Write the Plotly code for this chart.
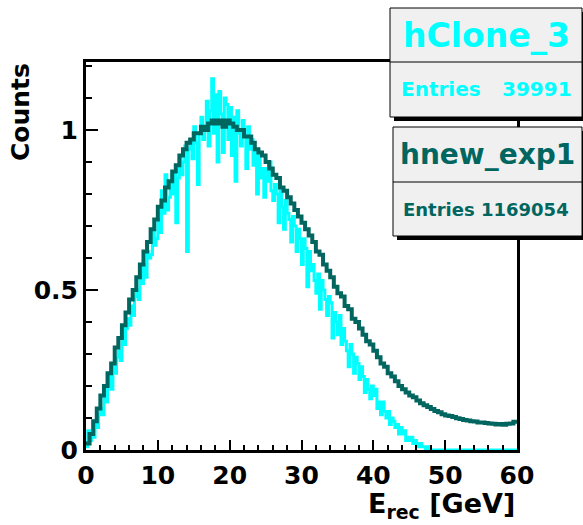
import plotly.graph_objects as go

# ---- data -------------------------------------------------------------
# hClone_3 : 240 bins of 0.25 GeV on [0, 60]
clone_edges_lo = 0.0
clone_width = 0.25
clone_vals = [
    0.01, 0.06, 0.03, 0.05,   # 0
    0.04, 0.09, 0.07, 0.11,   # 1
    0.13, 0.11, 0.17, 0.15,   # 2
    0.20, 0.23, 0.19, 0.26,   # 3
    0.24, 0.29, 0.31, 0.28,   # 4
    0.35, 0.33, 0.38, 0.41,   # 5
    0.39, 0.45, 0.42, 0.48,   # 6
    0.50, 0.47, 0.55, 0.52,   # 7
    0.58, 0.54, 0.62, 0.60,   # 8
    0.61, 0.69, 0.64, 0.66,   # 9
    0.72, 0.68, 0.81, 0.74,   # 10
    0.86, 0.75, 0.79, 0.83,   # 11
    0.80, 0.87, 0.71, 0.85,   # 12
    0.92, 0.86, 0.90, 0.95,   # 13
    0.62, 0.94, 0.97, 0.91,   # 14
    1.01, 0.96, 0.83, 0.99,   # 15
    1.04, 0.97, 1.00, 1.09,   # 16
    0.95, 1.06, 1.16, 0.99,   # 17
    1.11, 0.90, 1.12, 1.05,   # 18
    0.93, 1.10, 1.08, 0.97,   # 19
    1.07, 0.92, 1.04, 0.84,   # 20
    1.06, 0.99, 0.95, 1.03,   # 21
    0.98, 0.88, 1.01, 0.94,   # 22
    0.97, 0.89, 0.93, 0.80,   # 23
    0.93, 0.85, 0.88, 0.79,   # 24
    0.88, 0.84, 0.90, 0.81,   # 25
    0.78, 0.83, 0.80, 0.71,   # 26
    0.81, 0.76, 0.69, 0.78,   # 27
    0.74, 0.72, 0.65, 0.73,   # 28
    0.70, 0.62, 0.69, 0.66,   # 29
    0.58, 0.66, 0.63, 0.51,   # 30
    0.62, 0.56, 0.58, 0.53,   # 31
    0.49, 0.55, 0.44, 0.53,   # 32
    0.50, 0.47, 0.42, 0.48,   # 33
    0.46, 0.35, 0.43, 0.40,   # 34
    0.36, 0.42, 0.33, 0.38,   # 35
    0.34, 0.31, 0.26, 0.33,   # 36
    0.30, 0.24, 0.29, 0.27,   # 37
    0.22, 0.26, 0.23, 0.18,   # 38
    0.22, 0.19, 0.16, 0.20,   # 39
    0.17, 0.19, 0.13, 0.15,   # 40
    0.11, 0.15, 0.12, 0.10,   # 41
    0.12, 0.08, 0.10, 0.09,   # 42
    0.07, 0.08, 0.05, 0.07,   # 43
    0.05, 0.06, 0.03, 0.04,   # 44
    0.03, 0.04, 0.02, 0.03,   # 45
    0.02, 0.01, 0.02, 0.01,   # 46
    0.01, 0.00, 0.01, 0.00,   # 47
    0.00, 0.00, 0.00, 0.00,   # 48
    0.00, 0.00, 0.00, 0.00,   # 49
    0.00, 0.00, 0.00, 0.00,   # 50
    0.00, 0.00, 0.00, 0.00,   # 51
    0.00, 0.00, 0.00, 0.00,   # 52
    0.00, 0.00, 0.00, 0.00,   # 53
    0.00, 0.00, 0.00, 0.00,   # 54
    0.00, 0.00, 0.00, 0.00,   # 55
    0.00, 0.00, 0.00, 0.00,   # 56
    0.00, 0.00, 0.00, 0.00,   # 57
    0.00, 0.00, 0.00, 0.00,   # 58
    0.00, 0.00, 0.00, 0.00,   # 59
]

# hnew_exp1 : 120 bins of 0.5 GeV on [0, 60]
exp_edges_lo = 0.0
exp_width = 0.5
exp_vals = [
    0.02, 0.05,  0.09, 0.13,  0.17, 0.20,  0.24, 0.27,  0.32, 0.35,   # 0-4
    0.39, 0.43,  0.47, 0.50,  0.54, 0.58,  0.62, 0.65,  0.69, 0.72,   # 5-9
    0.76, 0.78,  0.82, 0.84,  0.87, 0.89,  0.92, 0.94,  0.96, 0.97,   # 10-14
    0.99, 0.99,  1.01, 1.00,  1.02, 1.03,  1.02, 1.03,  1.01, 1.03,   # 15-19
    1.02, 1.01,  1.00, 1.00,  0.98, 0.98,  0.96, 0.94,  0.93, 0.92,   # 20-24
    0.90, 0.88,  0.86, 0.85,  0.82, 0.81,  0.79, 0.77,  0.75, 0.73,   # 25-29
    0.71, 0.69,  0.67, 0.65,  0.62, 0.61,  0.58, 0.56,  0.54, 0.51,   # 30-34
    0.49, 0.48,  0.45, 0.44,  0.41, 0.40,  0.38, 0.36,  0.34, 0.33,   # 35-39
    0.31, 0.29,  0.27, 0.26,  0.24, 0.23,  0.215, 0.20, 0.19, 0.18,   # 40-44
    0.17, 0.165, 0.155, 0.146, 0.140, 0.134, 0.128, 0.122, 0.118, 0.112,  # 45-49
    0.108, 0.106, 0.103, 0.099, 0.097, 0.094, 0.092, 0.090, 0.089, 0.086,  # 50-54
    0.086, 0.084, 0.083, 0.082, 0.080, 0.081, 0.079, 0.082, 0.083, 0.088,  # 55-59
]

clone_name = "hClone_3"
clone_entries = "39991"
exp_name = "hnew_exp1"
exp_entries = "1169054"

x_ticks = [0, 10, 20, 30, 40, 50, 60]
y_ticks = [0, 0.5, 1]
x_range = [0, 60]
y_range = [0, 1.2125]

CYAN = "#00ffff"
TEAL = "#00665f"
FONT = "DejaVu Sans"


def step_xy(lo, width, vals):
    """Outline of a histogram: bin low edges plus the final upper edge."""
    n = len(vals)
    xs = [lo + i * width for i in range(n + 1)]
    ys = list(vals) + [vals[-1]]
    return xs, ys


fig = go.Figure()

cx, cy = step_xy(clone_edges_lo, clone_width, clone_vals)
fig.add_trace(go.Scatter(x=cx, y=cy, mode="lines", line=dict(color=CYAN, width=3, shape="hv"),
                         hoverinfo="skip", showlegend=False))

ex, ey = step_xy(exp_edges_lo, exp_width, exp_vals)
fig.add_trace(go.Scatter(x=ex, y=ey, mode="lines", line=dict(color=TEAL, width=4, shape="hv"),
                         hoverinfo="skip", showlegend=False))

# ---- frame geometry (pixels) -----------------------------------------
W, H = 583, 525
L, R, T, B = 86, 517, 62, 450


def px(x):
    return (x - L) / (R - L)


def py(y):
    return (B - y) / (B - T)


tickfont = dict(family=FONT, size=25, color="black", weight="bold")

fig.update_xaxes(
    range=x_range, tickvals=x_ticks, ticks="inside", ticklen=10, tickwidth=2, tickcolor="black",
    showline=True, linewidth=3, linecolor="black", mirror=True, showgrid=False, zeroline=False,
    tickfont=tickfont, ticklabelstandoff=1,
    minor=dict(dtick=2, ticks="inside", ticklen=5, tickwidth=2, tickcolor="black", showgrid=False),
)
fig.update_yaxes(
    range=y_range, tickvals=y_ticks, ticks="inside", ticklen=12, tickwidth=2, tickcolor="black",
    showline=True, linewidth=3, linecolor="black", mirror=True, showgrid=False, zeroline=False,
    tickfont=tickfont, ticklabelstandoff=0,
    minor=dict(dtick=0.1, ticks="inside", ticklen=6, tickwidth=2, tickcolor="black", showgrid=False),
)

shapes = []
annotations = []


def stat_box(x0, y0, x1, y1, ydiv, title, tsize, entries, esize, color, ex0, ex1):
    # drop shadow
    shapes.append(dict(type="rect", xref="paper", yref="paper", layer="above",
                       x0=px(x0 + 4), x1=px(x1 + 4), y0=py(y1 + 4), y1=py(y0 + 4),
                       fillcolor="black", line=dict(width=0)))
    # box body
    shapes.append(dict(type="rect", xref="paper", yref="paper", layer="above",
                       x0=px(x0), x1=px(x1), y0=py(y1), y1=py(y0),
                       fillcolor="#f0f0f0", line=dict(color="black", width=1)))
    # separator under the title
    shapes.append(dict(type="line", xref="paper", yref="paper", layer="above",
                       x0=px(x0), x1=px(x1), y0=py(ydiv), y1=py(ydiv),
                       line=dict(color="black", width=1)))
    annotations.append(dict(xref="paper", yref="paper", x=px((x0 + x1) / 2), y=py((y0 + ydiv) / 2),
                            text=title, showarrow=False, xanchor="center", yanchor="middle",
                            font=dict(family=FONT, size=tsize, color=color, weight="bold")))
    annotations.append(dict(xref="paper", yref="paper", x=px(ex0), y=py((ydiv + y1) / 2),
                            text="Entries", showarrow=False, xanchor="left", yanchor="middle",
                            font=dict(family=FONT, size=esize, color=color, weight="bold")))
    annotations.append(dict(xref="paper", yref="paper", x=px(ex1), y=py((ydiv + y1) / 2),
                            text=entries, showarrow=False, xanchor="right", yanchor="middle",
                            font=dict(family=FONT, size=esize, color=color, weight="bold")))


stat_box(390, 8, 582, 117, 62, clone_name, 33, clone_entries, 20, CYAN, 399, 574)
stat_box(393, 127, 582, 236, 182, exp_name, 28, exp_entries, 18, TEAL, 401, 571)

# axis titles
annotations.append(dict(xref="paper", yref="paper", x=px(20), y=py(61),
                        text="Counts", textangle=-90, showarrow=False,
                        xanchor="center", yanchor="top",
                        font=dict(family=FONT, size=25, color="black", weight="bold")))
annotations.append(dict(xref="paper", yref="paper", x=px(516), y=py(524),
                        text="E<sub>rec</sub> [GeV]", showarrow=False,
                        xanchor="right", yanchor="bottom", borderpad=0,
                        font=dict(family=FONT, size=27, color="black", weight="bold")))

fig.update_layout(
    width=W, height=H,
    margin=dict(l=L, r=W - R, t=T, b=H - B, pad=0),
    paper_bgcolor="white", plot_bgcolor="white",
    shapes=shapes, annotations=annotations,
    showlegend=False,
)

fig.write_html("out.html")
